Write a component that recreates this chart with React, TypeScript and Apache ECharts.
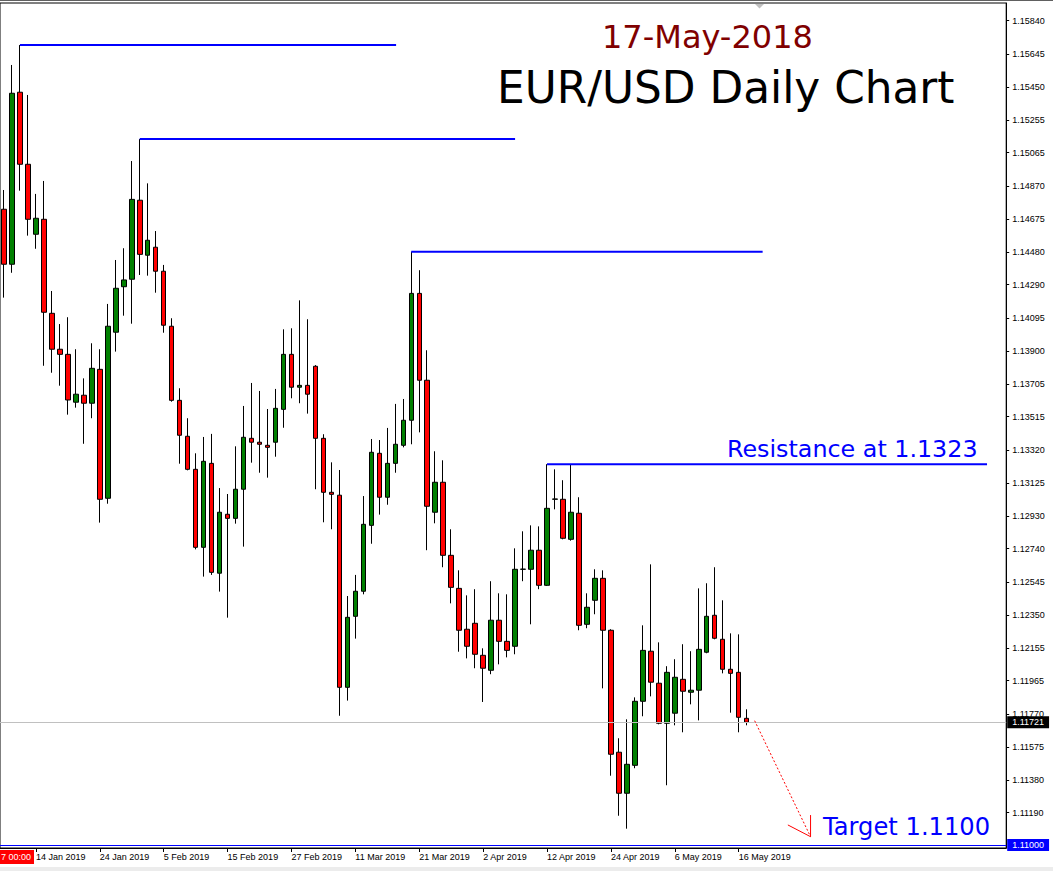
import React, { useEffect, useRef } from "react";
import * as echarts from "echarts";

// Trading days shown (daily candles)
const dates = [
  "8 Jan 2019", "9 Jan 2019", "10 Jan 2019", "11 Jan 2019", "14 Jan 2019", "15 Jan 2019", "16 Jan 2019", "17 Jan 2019", "18 Jan 2019", "21 Jan 2019",
  "22 Jan 2019", "23 Jan 2019", "24 Jan 2019", "25 Jan 2019", "28 Jan 2019", "29 Jan 2019", "30 Jan 2019", "31 Jan 2019", "1 Feb 2019", "4 Feb 2019",
  "5 Feb 2019", "6 Feb 2019", "7 Feb 2019", "8 Feb 2019", "11 Feb 2019", "12 Feb 2019", "13 Feb 2019", "14 Feb 2019", "15 Feb 2019", "18 Feb 2019",
  "19 Feb 2019", "20 Feb 2019", "21 Feb 2019", "22 Feb 2019", "25 Feb 2019", "26 Feb 2019", "27 Feb 2019", "28 Feb 2019", "1 Mar 2019", "4 Mar 2019",
  "5 Mar 2019", "6 Mar 2019", "7 Mar 2019", "8 Mar 2019", "11 Mar 2019", "12 Mar 2019", "13 Mar 2019", "14 Mar 2019", "15 Mar 2019", "18 Mar 2019",
  "19 Mar 2019", "20 Mar 2019", "21 Mar 2019", "22 Mar 2019", "25 Mar 2019", "26 Mar 2019", "27 Mar 2019", "28 Mar 2019", "29 Mar 2019", "1 Apr 2019",
  "2 Apr 2019", "3 Apr 2019", "4 Apr 2019", "5 Apr 2019", "8 Apr 2019", "9 Apr 2019", "10 Apr 2019", "11 Apr 2019", "12 Apr 2019", "15 Apr 2019",
  "16 Apr 2019", "17 Apr 2019", "18 Apr 2019", "19 Apr 2019", "22 Apr 2019", "23 Apr 2019", "24 Apr 2019", "25 Apr 2019", "26 Apr 2019", "29 Apr 2019",
  "30 Apr 2019", "1 May 2019", "2 May 2019", "3 May 2019", "6 May 2019", "7 May 2019", "8 May 2019", "9 May 2019", "10 May 2019", "13 May 2019",
  "14 May 2019", "15 May 2019", "16 May 2019", "17 May 2019",
];

const opens = [
  1.14733, 1.1441, 1.1542, 1.14997, 1.14586, 1.14674, 1.14122, 1.13911, 1.13881, 1.136,
  1.13641, 1.13594, 1.13793, 1.13036, 1.14011, 1.14278, 1.14322, 1.14786, 1.14463, 1.1451,
  1.14369, 1.14046, 1.13611, 1.134, 1.13206, 1.12748, 1.13241, 1.12596, 1.12942, 1.12918,
  1.13089, 1.13388, 1.13365, 1.13347, 1.13365, 1.13558, 1.13881, 1.13688, 1.13699, 1.13811,
  1.13388, 1.13071, 1.13054, 1.11926, 1.12343, 1.1249, 1.12877, 1.133, 1.13042, 1.13241,
  1.13347, 1.13494, 1.14239, 1.13729, 1.12954, 1.1313, 1.12701, 1.12507, 1.12267, 1.12302,
  1.12114, 1.12026, 1.1232, 1.12196, 1.12167, 1.12619, 1.12619, 1.12731, 1.12525, 1.1303,
  1.1303, 1.12795, 1.12948, 1.12296, 1.12437, 1.12566, 1.12261, 1.11545, 1.11304, 1.11468,
  1.11844, 1.12138, 1.1195, 1.11715, 1.11774, 1.11973, 1.11897, 1.11909, 1.12132, 1.12349,
  1.12208, 1.12032, 1.12014, 1.11744,
];

const closes = [
  1.1441, 1.15414, 1.14997, 1.14674, 1.1468, 1.14128, 1.13911, 1.13881, 1.13613, 1.13647,
  1.13594, 1.13799, 1.1303, 1.14046, 1.14269, 1.14318, 1.14791, 1.14468, 1.14551, 1.14369,
  1.14052, 1.13611, 1.13406, 1.13206, 1.12748, 1.13253, 1.12601, 1.12954, 1.12918, 1.13089,
  1.13394, 1.13365, 1.13353, 1.13335, 1.13564, 1.13881, 1.13688, 1.13699, 1.13647, 1.13388,
  1.13071, 1.13059, 1.11926, 1.12337, 1.1249, 1.12883, 1.13306, 1.13042, 1.13241, 1.13353,
  1.13494, 1.14239, 1.13729, 1.12989, 1.1313, 1.12701, 1.12513, 1.12261, 1.12167, 1.1212,
  1.12038, 1.1232, 1.12196, 1.12143, 1.12619, 1.1262, 1.12731, 1.12525, 1.12977, 1.13032,
  1.12801, 1.12954, 1.1229, 1.12396, 1.12566, 1.12261, 1.11533, 1.11304, 1.11474, 1.11844,
  1.12143, 1.11956, 1.11715, 1.12014, 1.11985, 1.11903, 1.11909, 1.12149, 1.12343, 1.12214,
  1.12032, 1.12008, 1.1175, 1.11721,
];

const lows = [
  1.14214, 1.1436, 1.14842, 1.14578, 1.14501, 1.13814, 1.13773, 1.13697, 1.13527, 1.13568,
  1.13356, 1.13506, 1.12893, 1.13004, 1.13897, 1.14108, 1.14061, 1.14347, 1.14343, 1.14243,
  1.14008, 1.13603, 1.13239, 1.132, 1.12736, 1.12576, 1.12586, 1.12488, 1.12335, 1.12887,
  1.12752, 1.13245, 1.13186, 1.13157, 1.1328, 1.1345, 1.13623, 1.13594, 1.13533, 1.13089,
  1.12895, 1.12854, 1.11759, 1.11848, 1.12212, 1.12472, 1.12769, 1.1294, 1.12998, 1.13186,
  1.13335, 1.13353, 1.13423, 1.12731, 1.12889, 1.12631, 1.12419, 1.12135, 1.12096, 1.12038,
  1.1184, 1.12003, 1.12061, 1.12102, 1.1212, 1.12549, 1.12296, 1.12502, 1.12521, 1.12971,
  1.12795, 1.12787, 1.12261, 1.12273, 1.12355, 1.1192, 1.11407, 1.11172, 1.11096, 1.11451,
  1.11756, 1.11873, 1.11709, 1.11351, 1.11703, 1.11662, 1.11826, 1.11732, 1.12126, 1.12208,
  1.12008, 1.11777, 1.11662, 1.11703,
];

const highs = [
  1.14846, 1.1558, 1.15697, 1.15404, 1.14823, 1.14899, 1.14253, 1.14059, 1.14099, 1.13911,
  1.1374, 1.13946, 1.13911, 1.14177, 1.14435, 1.14504, 1.15016, 1.15145, 1.14885, 1.14605,
  1.14406, 1.14093, 1.13682, 1.13506, 1.133, 1.13396, 1.13414, 1.13096, 1.13061, 1.13341,
  1.13578, 1.13713, 1.13666, 1.1356, 1.13678, 1.14028, 1.14034, 1.14198, 1.14087, 1.13818,
  1.13412, 1.13247, 1.13202, 1.12462, 1.12586, 1.13049, 1.13384, 1.13378, 1.13449, 1.1359,
  1.13619, 1.14484, 1.14375, 1.13905, 1.13312, 1.13259, 1.12854, 1.12613, 1.12466, 1.12502,
  1.12155, 1.12549, 1.12478, 1.12472, 1.12742, 1.12842, 1.12877, 1.12871, 1.13236, 1.13206,
  1.13142, 1.13236, 1.13042, 1.12478, 1.12619, 1.12613, 1.12267, 1.11627, 1.11738, 1.11867,
  1.1229, 1.12648, 1.1219, 1.1205, 1.12091, 1.12179, 1.12138, 1.12507, 1.12537, 1.12631,
  1.12437, 1.12243, 1.12237, 1.11797,
];

// Empty future slots to the right of the last candle (chart shift area)
const futureSlots = 32;

// Price scale tick labels (right axis)
const yTickLabels = [
  1.1584, 1.15645, 1.1545, 1.15255, 1.15065, 1.1487, 1.14675, 1.1448, 1.1429, 1.14095,
  1.139, 1.13705, 1.13515, 1.1332, 1.13125, 1.1293, 1.1274, 1.12545, 1.1235, 1.12155,
  1.11965, 1.1177, 1.11575, 1.1138, 1.1119,
];
const yMin = 1.109826;
const yMax = 1.159439;

const currentPrice = 1.11721;
const targetPrice = 1.11;

// Horizontal swing-high levels: price, first bar index, last bar index
const levelPrices = [1.15697, 1.15145, 1.14484, 1.13236];
const levelFrom = [2, 17, 51, 68];
const levelTo = [49.1, 64, 95, 123.1];

// Projected move (dotted arrow) in [bar index, price]
const arrowLine = [
  [94, 1.1173],
  [101, 1.11049],
];
const arrowHead = [
  [98.16, 1.11118],
  [101, 1.11049],
  [101, 1.11176],
];

const AX_FONT = '"Liberation Sans", Arial, sans-serif';
const BIG_FONT = '"DejaVu Sans", Verdana, sans-serif';

export default function App() {
  const ref = useRef<HTMLDivElement>(null);

  useEffect(() => {
    if (!ref.current) return;
    const chart = echarts.init(ref.current, null, { renderer: "svg" });

    const categories = dates.concat(
      Array.from({ length: futureSlots }, (_, i) => `+${i + 1}`)
    );
    const candleData = dates.map((_, i) => [opens[i], closes[i], lows[i], highs[i]]);
    const labelShown = (idx: number) => idx >= 4 && idx <= 92 && (idx - 4) % 8 === 0;

    const levelSeries = levelPrices.map((p, i) => ({
      type: "line",
      xAxisIndex: 1,
      yAxisIndex: 0,
      data: [
        [levelFrom[i], p],
        [levelTo[i], p],
      ],
      symbol: "none",
      silent: true,
      lineStyle: { color: "#0000ff", width: 2 },
      z: 5,
    }));

    const option: any = {
      animation: false,
      backgroundColor: "#ffffff",
      grid: {
        left: -0.8,
        right: 46.8,
        top: 3,
        bottom: 23,
        show: true,
        borderColor: "#000",
        borderWidth: 1,
        backgroundColor: "#fff",
      },
      xAxis: [
        {
          type: "category",
          data: categories,
          boundaryGap: true,
          axisLine: { show: true, onZero: false, lineStyle: { color: "#000", width: 1 } },
          axisTick: {
            show: true,
            alignWithLabel: true,
            length: 4,
            interval: labelShown,
            lineStyle: { color: "#000" },
          },
          axisLabel: {
            show: true,
            interval: labelShown,
            align: "left",
            margin: 4,
            fontSize: 9,
            fontFamily: AX_FONT,
            color: "#000",
          },
          splitLine: { show: false },
        },
        {
          type: "value",
          min: -0.5,
          max: categories.length - 0.5,
          show: false,
          axisLine: { onZero: false },
        },
      ],
      yAxis: {
        type: "value",
        position: "right",
        min: yMin,
        max: yMax,
        scale: true,
        axisLine: { show: true, onZero: false, lineStyle: { color: "#000" } },
        axisTick: {
          show: true,
          length: 3,
          customValues: yTickLabels,
          lineStyle: { color: "#000" },
        },
        axisLabel: {
          show: true,
          customValues: yTickLabels,
          formatter: (v: number) => v.toFixed(5),
          margin: 6,
          fontSize: 9,
          fontFamily: AX_FONT,
          color: "#000",
        },
        splitLine: { show: false },
      },
      series: [
        {
          type: "candlestick",
          xAxisIndex: 0,
          yAxisIndex: 0,
          data: candleData,
          barWidth: 5,
          itemStyle: {
            color: "#008000",
            color0: "#ff0000",
            borderColor: "#000",
            borderColor0: "#000",
            borderColorDoji: "#000",
            borderWidth: 1,
          },
          markLine: {
            silent: true,
            symbol: ["none", "none"],
            precision: 5,
            animation: false,
            data: [
              {
                yAxis: currentPrice,
                lineStyle: { color: "#c0c0c0", width: 1, type: "solid" },
                label: {
                  show: true,
                  position: "end",
                  distance: 1,
                  formatter: currentPrice.toFixed(5),
                  color: "#fff",
                  backgroundColor: "#000",
                  padding: [2, 5, 1, 5],
                  fontSize: 9,
                  fontFamily: AX_FONT,
                },
              },
              {
                yAxis: targetPrice,
                lineStyle: { color: "#0000ff", width: 1, type: "solid" },
                label: {
                  show: true,
                  position: "end",
                  distance: 1,
                  formatter: targetPrice.toFixed(5),
                  color: "#fff",
                  backgroundColor: "#0000ff",
                  padding: [2, 5, 1, 5],
                  fontSize: 9,
                  fontFamily: AX_FONT,
                },
              },
            ],
          },
          z: 3,
        },
        ...levelSeries,
        {
          type: "line",
          xAxisIndex: 1,
          yAxisIndex: 0,
          data: arrowLine,
          symbol: "none",
          silent: true,
          lineStyle: { color: "#ff0000", width: 1, type: [2, 2] },
          z: 6,
        },
        {
          type: "line",
          xAxisIndex: 1,
          yAxisIndex: 0,
          data: arrowHead,
          symbol: "none",
          silent: true,
          lineStyle: { color: "#ff0000", width: 1 },
          z: 6,
        },
      ],
      graphic: [
        {
          type: "line",
          shape: { x1: 0, y1: 0.5, x2: 1053, y2: 0.5 },
          style: { stroke: "#606060", lineWidth: 1 },
          silent: true,
        },
        {
          type: "polygon",
          shape: { points: [[755, 4], [764, 4], [759.5, 8.5]] },
          style: { fill: "#c0c0c0" },
          silent: true,
        },
        {
          type: "rect",
          shape: { x: 0, y: 867, width: 1053, height: 4 },
          style: { fill: "#ececec" },
          silent: true,
        },
        {
          type: "text",
          x: 602,
          y: 37,
          style: {
            text: "17-May-2018",
            fill: "#800000",
            font: `32px ${BIG_FONT}`,
            textAlign: "left",
            textVerticalAlign: "middle",
            align: "left",
            verticalAlign: "middle",
          },
          silent: true,
        },
        {
          type: "text",
          x: 497,
          y: 87,
          style: {
            text: "EUR/USD Daily Chart",
            fill: "#000",
            font: `43.8px ${BIG_FONT}`,
            textAlign: "left",
            textVerticalAlign: "middle",
            align: "left",
            verticalAlign: "middle",
          },
          silent: true,
        },
        {
          type: "text",
          x: 727,
          y: 449,
          style: {
            text: "Resistance at 1.1323",
            fill: "#0000ff",
            font: `23.8px ${BIG_FONT}`,
            textAlign: "left",
            textVerticalAlign: "middle",
            align: "left",
            verticalAlign: "middle",
          },
          silent: true,
        },
        {
          type: "text",
          x: 823,
          y: 827,
          style: {
            text: "Target 1.1100",
            fill: "#0000ff",
            font: `24.2px ${BIG_FONT}`,
            textAlign: "left",
            textVerticalAlign: "middle",
            align: "left",
            verticalAlign: "middle",
          },
          silent: true,
        },
        {
          type: "rect",
          shape: { x: 0, y: 850, width: 34, height: 14 },
          style: { fill: "#ff0000" },
          silent: true,
        },
        {
          type: "text",
          x: 1,
          y: 857,
          style: {
            text: "7 00:00",
            fill: "#fff",
            font: `9px ${AX_FONT}`,
            textAlign: "left",
            textVerticalAlign: "middle",
            align: "left",
            verticalAlign: "middle",
          },
          silent: true,
        },
      ],
    };

    chart.setOption(option);
    return () => chart.dispose();
  }, []);

  return (
    <div
      ref={ref}
      style={{ position: "fixed", left: 0, top: 0, width: 1053, height: 871, background: "#fff" }}
    />
  );
}
